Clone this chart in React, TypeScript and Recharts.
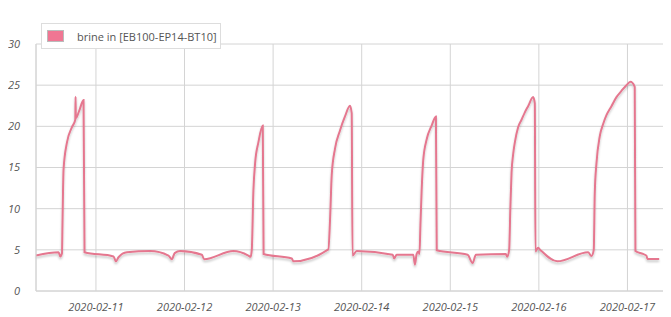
import {
  CartesianGrid,
  Legend,
  Line,
  LineChart,
  ReferenceLine,
  XAxis,
  YAxis,
} from "recharts";

// hours since 2020-02-10 00:00
const hours = [
  7.76, 13.88, 14.34, 14.8, 14.93, 15.23, 16.15, 17.5, 18.4, 18.48, 18.56, 19.48, 20.64, 20.91,
  28.76, 29.41, 30.12, 32.39, 38.7, 43.65, 44.57, 45.33, 46.82, 52.69, 53.31, 61.24, 65.3, 65.9,
  66.22, 66.66, 67.12, 68.01, 69.2, 69.42, 77.05, 77.48, 86.96, 87.42, 87.88, 88.77, 90.12,
  91.47, 92.82, 93.29, 93.51, 94.64, 104.39, 104.82, 105.47, 109.96, 110.42, 110.88, 111.32,
  111.65, 111.91, 112.24, 112.67, 113.59, 114.95, 116.11, 116.33, 124.69, 126.04, 126.94, 135.06,
  135.41, 135.95, 136.27, 136.6, 137.03, 137.49, 138.38, 139.3, 140.2, 141.09, 142.44, 142.9,
  143.07, 143.8, 144.26, 148.99, 157.33, 158.25, 158.87, 159.14, 159.6, 160.5, 161.39, 162.31,
  163.67, 165.02, 166.37, 167.72, 168.81, 169.97, 170.16, 172.22, 173.14, 173.41, 176.6,
];

const brineIn = [
  4.3, 4.7, 4.2, 4.6, 8.0, 14.8, 18.05, 19.9, 20.8, 23.6, 21.0, 21.9, 23.2, 4.7,
  4.2, 3.6, 4.1, 4.7, 4.85, 4.3, 3.85, 4.6, 4.85, 4.4, 3.85, 4.85, 4.3, 4.15,
  5.0, 12.2, 15.5, 18.05, 20.1, 4.5, 3.95, 3.6, 5.05, 8.6, 14.1, 17.3, 19.5,
  21.2, 22.5, 21.6, 4.3, 4.85, 4.4, 3.95, 4.4, 4.4, 3.2, 4.5, 4.8,
  4.5, 8.0, 12.2, 15.9, 18.4, 20.1, 21.2, 4.95, 4.4, 3.4, 4.4, 4.5,
  4.15, 5.0, 10.0, 14.4, 16.6, 18.05, 19.9, 20.8, 21.7, 22.45, 23.55, 22.8,
  4.8, 5.25, 5.05, 3.6, 4.7, 4.25, 5.0, 11.8, 15.5, 18.8, 20.25, 21.35,
  22.45, 23.55, 24.3, 25.0, 25.4, 24.8, 4.85, 4.5, 4.3, 3.9, 3.9,
];

const dayTicks = [24, 48, 72, 96, 120, 144, 168];
const yTicks = [0, 5, 10, 15, 20, 25, 30];
const seriesName = "brine in [EB100-EP14-BT10]";

const LINE = "#e5778f";
const GRID = "#d4d4d4";
const FONT = "'Open Sans', sans-serif";

const data = hours.map((h, i) => ({ h, v: brineIn[i] }));

function dayLabel(h: number) {
  const d = 10 + Math.round(h / 24);
  return `2020-02-${String(d).padStart(2, "0")}`;
}

function LegendBox() {
  return (
    <div
      style={{
        display: "flex",
        alignItems: "center",
        background: "#fff",
        border: "1px solid #ddd",
        width: 180,
        height: 26,
        boxSizing: "border-box",
        whiteSpace: "nowrap",
        fontFamily: FONT,
        fontSize: 11,
        color: "#555",
      }}
    >
      <span
        style={{
          display: "inline-block",
          width: 15,
          height: 10,
          background: "#f07693",
          border: "1px solid #bbb",
          marginLeft: 5,
          marginRight: 13,
        }}
      />
      {seriesName}
    </div>
  );
}

export default function App() {
  return (
    <LineChart
      width={663}
      height={309}
      data={data}
      margin={{ top: 10, right: 7, bottom: 0, left: 0 }}
    >
      <defs>
        <filter id="lineShadow" x="-5%" y="-5%" width="110%" height="120%">
          <feDropShadow dx="0" dy="2" stdDeviation="1.2" floodColor="#000" floodOpacity="0.22" />
        </filter>
      </defs>
      <CartesianGrid stroke={GRID} />
      <XAxis
        dataKey="h"
        type="number"
        domain={[7.76, 177.9]}
        ticks={dayTicks}
        tickFormatter={dayLabel}
        stroke={GRID}
        tickLine={false}
        height={26}
        tickMargin={6}
        tick={{ fill: "#555", fontSize: 11, fontStyle: "italic", fontFamily: FONT }}
      />
      <YAxis
        domain={[0, 30]}
        ticks={yTicks}
        width={28}
        stroke={GRID}
        tickLine={false}
        tickMargin={10}
        tick={{ fill: "#555", fontSize: 11, fontStyle: "italic", fontFamily: FONT }}
      />
      <ReferenceLine x={177.9} stroke={GRID} />
      <Legend
        verticalAlign="top"
        align="left"
        content={() => <LegendBox />}
        wrapperStyle={{ top: 15, left: 33, width: "auto" }}
      />
      <Line
        type="monotone"
        dataKey="v"
        name={seriesName}
        stroke={LINE}
        strokeWidth={2}
        dot={false}
        filter="url(#lineShadow)"
        isAnimationActive={false}
      />
    </LineChart>
  );
}
